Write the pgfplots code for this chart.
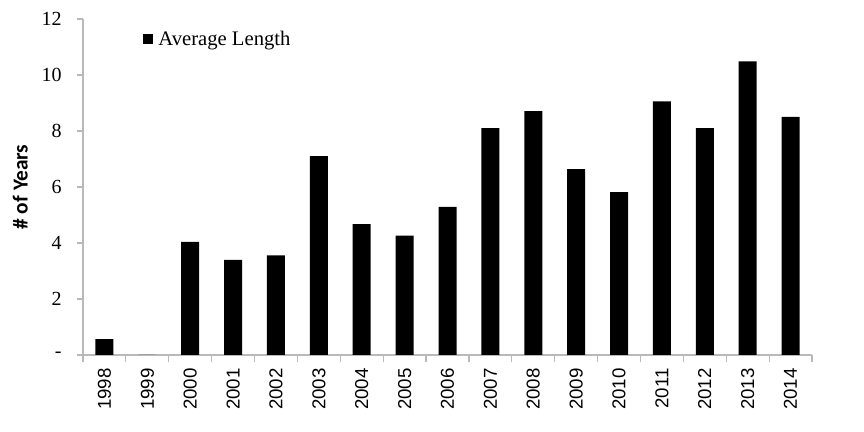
\documentclass[border=0pt]{standalone}
\usepackage{pgfplots}
\pgfplotsset{compat=1.18}
\usepackage{fontspec}
\setmainfont{Liberation Serif}
\newfontfamily\sansfont{Liberation Sans}
\newfontfamily\labelfont{Carlito}
\begin{document}
\begin{tikzpicture}[x=0.75pt,y=0.75pt]
\path (0,0) rectangle (864,432);
\begin{axis}[
  at={(62.25pt,57.75pt)}, anchor=south west,
  scale only axis, width=546.75pt, height=252pt,
  xmin=-0.5, xmax=16.5, ymin=0, ymax=12,
  axis x line*=bottom, axis y line*=left,
  axis line style={draw=gray!55, line width=0.9pt},
  every tick/.style={draw=gray!55, line width=0.9pt},
  tick align=outside,
  ytick={0,2,4,6,8,10,12},
  yticklabels={-,2,4,6,8,10,12},
  major tick length=4.5pt,
  minor tick length=5pt,
  y tick label style={font=\fontsize{15}{15}\selectfont, xshift=-8pt},
  /pgf/number format/assume math mode=true,
  xtick={0,...,16},
  xticklabels={1998,1999,2000,2001,2002,2003,2004,2005,2006,2007,2008,2009,2010,2011,2012,2013,2014},
  x tick label style={rotate=90, anchor=east, font=\sansfont\fontsize{14}{14}\selectfont, xshift=-2pt},
  major x tick style={draw=none},
  minor xtick={-0.5,0.5,...,16.5},
  ylabel={\# of Years},
  ylabel style={at={(axis description cs:-0.086,0.5)}, anchor=center, font=\labelfont\bfseries\fontsize{16}{16}\selectfont},
  legend style={draw=none, fill=none, at={(axis description cs:0.082,0.94)}, anchor=west,
    font=\fontsize{15.5}{15.5}\selectfont, inner sep=0pt, row sep=0pt,
    nodes={inner xsep=4pt}},
  legend image code/.code={\fill[black] (0pt,-3.75pt) rectangle (7.5pt,3.75pt);},
]
\addplot[ybar, bar width=13.5pt, fill=black, draw=none] coordinates {
  (0,0.57) (1,0) (2,4.04) (3,3.40) (4,3.56) (5,7.10) (6,4.67) (7,4.26) (8,5.29)
  (9,8.10) (10,8.71) (11,6.64) (12,5.82) (13,9.06) (14,8.10) (15,10.49) (16,8.50)
};
\addlegendentry{Average Length}
\end{axis}
\end{tikzpicture}
\end{document}
